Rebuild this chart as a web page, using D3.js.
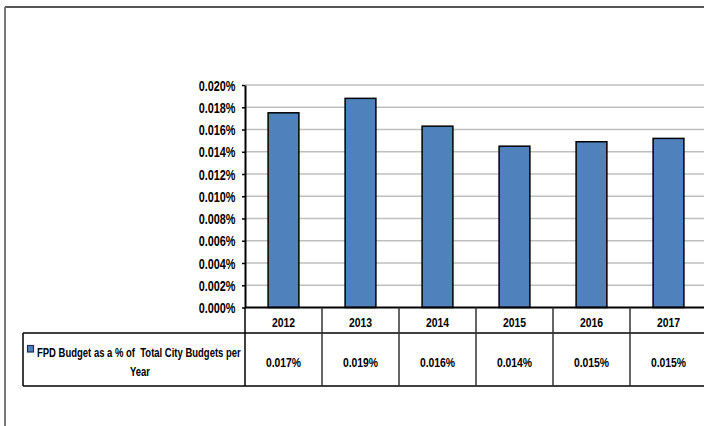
<!DOCTYPE html>
<html>
<head>
<meta charset="utf-8">
<script src="https://cdn.jsdelivr.net/npm/d3@7"></script>
<style>
  html, body { margin: 0; padding: 0; background: #fff; }
  svg { display: block; }
  text { font-family: "Liberation Sans", Arial, sans-serif; font-weight: bold; fill: #000; white-space: pre; }
</style>
</head>
<body>
<svg id="chart" width="704" height="426"></svg>
<script>
// Chart data
const years = ['2012', '2013', '2014', '2015', '2016', '2017'];
const values = [0.0175, 0.0188, 0.0163, 0.0145, 0.0149, 0.0152];
const valueLabels = ['0.017%', '0.019%', '0.016%', '0.014%', '0.015%', '0.015%'];
const yTicks = [0, 0.002, 0.004, 0.006, 0.008, 0.010, 0.012, 0.014, 0.016, 0.018, 0.020];
const seriesName = ['FPD Budget as a % of  Total City Budgets per', 'Year'];

const svg = d3.select('#chart');

// Layout
const plotLeft = 245, plotRight = 707;
const plotTop = 85, plotBottom = 307.5;
const headerBottom = 333, tableBottom = 386, legendLeft = 23;
const squeeze = 0.77; // narrow typeface look

// place a narrow text at (x, y)
function narrowText(g, x, y, str, size, anchor, sx) {
    return g.append('text')
        .attr('transform', `translate(${x},${y}) scale(${sx || squeeze},1)`)
        .attr('text-anchor', anchor || 'middle')
        .style('font-size', size + 'px')
        .text(str);
}

// Outer frame (top + left edges only visible)
svg.append('line')
    .attr('x1', 5).attr('x2', 704).attr('y1', 7).attr('y2', 7)
    .attr('stroke', '#555').attr('stroke-width', 2);
svg.append('line')
    .attr('x1', 5).attr('x2', 5).attr('y1', 7).attr('y2', 426)
    .attr('stroke', '#777').attr('stroke-width', 2);

// Scales
const x = d3.scaleBand()
    .domain(years)
    .range([plotLeft, plotRight])
    .paddingInner(0.6)
    .paddingOuter(0.3);

const col = d3.scaleBand()
    .domain(years)
    .range([plotLeft, plotRight]);

const y = d3.scaleLinear()
    .domain([0, 0.020])
    .range([plotBottom, plotTop]);

// Gridlines
svg.append('g')
    .selectAll('line')
    .data(yTicks.slice(1))
    .enter()
    .append('line')
    .attr('x1', plotLeft).attr('x2', plotRight)
    .attr('y1', d => y(d)).attr('y2', d => y(d))
    .attr('stroke', '#bfbfbf').attr('stroke-width', 1.5);

// Bars
svg.append('g')
    .selectAll('rect')
    .data(values)
    .enter()
    .append('rect')
    .attr('x', (d, i) => x(years[i]))
    .attr('y', d => y(d))
    .attr('width', x.bandwidth())
    .attr('height', d => plotBottom - y(d))
    .attr('fill', '#4f81bd')
    .attr('stroke', '#000')
    .attr('stroke-width', 1.5);

// Y axis
const yAxis = d3.axisLeft(y)
    .tickValues(yTicks)
    .tickFormat(d => d3.format('.3f')(d) + '%')
    .tickSize(3)
    .tickSizeOuter(0);

const yAxisG = svg.append('g')
    .attr('transform', `translate(${plotLeft},0)`)
    .call(yAxis);
yAxisG.select('.domain').attr('stroke', '#000').attr('stroke-width', 2);
yAxisG.selectAll('.tick line').attr('stroke', '#000').attr('stroke-width', 1.5);
yAxisG.selectAll('.tick text')
    .attr('x', null)
    .attr('dy', '0.35em')
    .attr('transform', `translate(-9.5,0) scale(0.75,1)`)
    .style('font-size', '14.5px')
    .style('font-family', '"Liberation Sans", Arial, sans-serif')
    .style('font-weight', 'bold');

// Data table
const table = svg.append('g');

// Horizontal lines
table.append('line')
    .attr('x1', plotLeft).attr('x2', plotRight)
    .attr('y1', plotBottom).attr('y2', plotBottom)
    .attr('stroke', '#000').attr('stroke-width', 2);
table.append('line')
    .attr('x1', legendLeft).attr('x2', plotRight)
    .attr('y1', headerBottom).attr('y2', headerBottom)
    .attr('stroke', '#000').attr('stroke-width', 1.5);
table.append('line')
    .attr('x1', legendLeft).attr('x2', plotRight)
    .attr('y1', tableBottom).attr('y2', tableBottom)
    .attr('stroke', '#000').attr('stroke-width', 1.5);

// Vertical lines
table.append('line')
    .attr('x1', legendLeft).attr('x2', legendLeft)
    .attr('y1', headerBottom).attr('y2', tableBottom)
    .attr('stroke', '#000').attr('stroke-width', 1.5);
table.selectAll('.vline')
    .data(years)
    .enter()
    .append('line')
    .attr('class', 'vline')
    .attr('x1', d => col(d)).attr('x2', d => col(d))
    .attr('y1', plotBottom)
    .attr('y2', tableBottom)
    .attr('stroke', (d, i) => i === 0 ? '#000' : '#333')
    .attr('stroke-width', 1.5);

// Year labels and values
years.forEach((yr, i) => {
    const cx = col(yr) + col.bandwidth() / 2;
    narrowText(table, cx, 326.5, yr, 13.5);
    narrowText(table, cx, 367, valueLabels[i], 13.5);
});

// Legend cell
table.append('rect')
    .attr('x', 27.5).attr('y', 345.5)
    .attr('width', 6).attr('height', 6.5)
    .attr('fill', '#4f81bd')
    .attr('stroke', '#1f3050')
    .attr('stroke-width', 1.2);

// fit the first legend line into the cell (37..241)
const leg1 = narrowText(table, 37, 356.5, seriesName[0], 13.5, 'start', 1);
const legW = leg1.node().getComputedTextLength();
const legScale = 204 / legW;
leg1.attr('transform', `translate(37,356.5) scale(${legScale},1)`);
narrowText(table, 140, 375.5, seriesName[1], 13.5, 'middle', legScale);
</script>
</body>
</html>
